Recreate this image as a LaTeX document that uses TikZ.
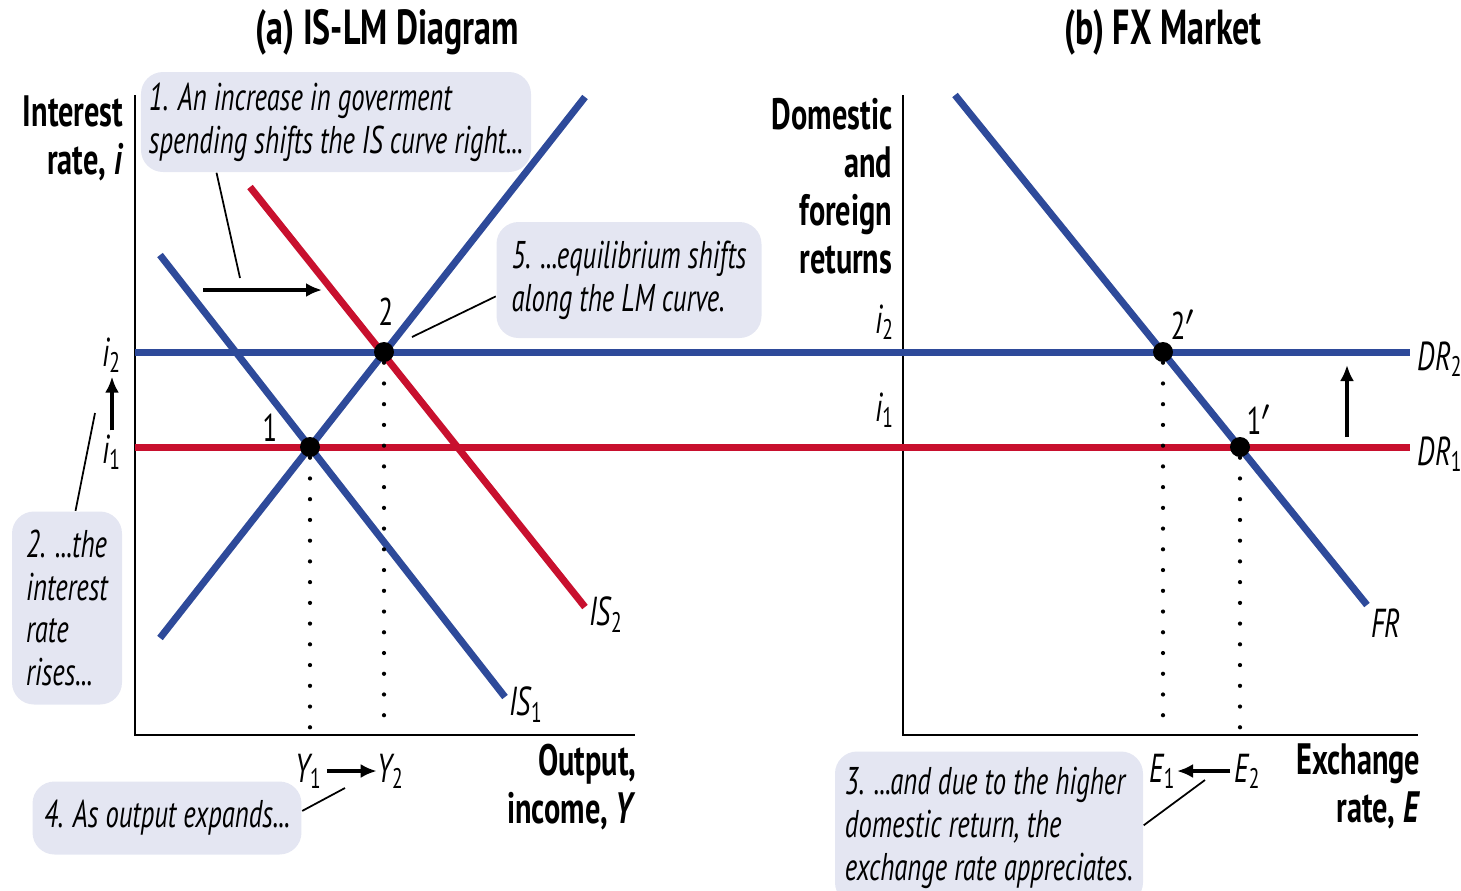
\documentclass[tikz,border=0pt]{standalone}
\usepackage{fontspec}
\setmainfont{PT Sans}[FakeStretch=0.69]
\usetikzlibrary{positioning, arrows.meta}
\definecolor{curveblue}{RGB}{46,74,154}
\definecolor{curvered}{RGB}{200,16,46}
\definecolor{notefill}{RGB}{228,230,242}
\newcommand{\sub}[1]{\textsubscript{\upshape #1}}

\begin{document}
\begin{tikzpicture}[
        x=0.1mm, y=-0.1mm,
        >={Latex[length=1.6mm, width=1.4mm]},
        axis/.style={line width=0.7pt},
        blueline/.style={line width=2pt, draw=curveblue},
        redline/.style={line width=2pt, draw=curvered},
        guide/.style={line width=1.2pt, line cap=round, dash pattern=on 0pt off 5.9pt},
        eqdot/.style={circle, fill=black, inner sep=0pt, minimum size=2mm},
        note/.style={fill=notefill, rounded corners=2.2mm, align=left, inner sep=0.8mm, font=\fontsize{11}{12.2}\selectfont\itshape},
        axlabel/.style={align=right, inner sep=0pt, font=\fontsize{12.5}{13.6}\selectfont\bfseries},
        title/.style={inner sep=0pt, font=\fontsize{14}{16}\selectfont\bfseries},
        tag/.style={inner sep=1pt, font=\fontsize{11}{12}\selectfont},
        ctag/.style={inner sep=1pt, font=\fontsize{11.5}{12}\selectfont\itshape},
        pointer/.style={line width=0.5pt},
        movearrow/.style={->, line width=1.4pt},
        thinmove/.style={->, line width=0.9pt},
        longer/.style={shorten <=0pt, shorten >=-1pt}
    ]
    \useasboundingbox (0,0) rectangle (1461,890);

    % Titles
    \node[title] (titlea) at (387,32) {(a) IS-LM Diagram};
    \node[title] (titleb) at (1163,32) {(b) FX Market};

    % Axes
    \coordinate (oa) at (135,735);
    \coordinate (ob) at (903,735);
    \draw[axis] (135,95) -- (oa) -- (635,735);
    \draw[axis] (903,95) -- (ob) -- (1418,735);
    \node[axlabel, anchor=east] (ylaba) at (124,138) {Interest\\rate, \textit{i}};
    \node[axlabel, anchor=east] (xlaba) at (637,787) {Output,\\income, \textit{Y}};
    \node[axlabel, anchor=east] (ylabb) at (893,186) {Domestic\\and\\foreign\\returns};
    \node[axlabel, anchor=east] (xlabb) at (1421,786) {Exchange\\rate, \textit{E}};

    % Return lines
    \coordinate (dr2-l) at (135,352);
    \coordinate (dr2-r) at (1410,352);
    \coordinate (dr1-l) at (135,447);
    \coordinate (dr1-r) at (1410,447);
    \draw[redline] (dr1-l) -- (dr1-r);
    \draw[blueline] (dr2-l) -- (dr2-r);
    \node[ctag, right=1pt of dr2-r, yshift=-2pt] (dr2lab) {DR\sub{2}};
    \node[ctag, right=1pt of dr1-r, yshift=-2pt] (dr1lab) {DR\sub{1}};

    % IS-LM curves
    \coordinate (lm-lo) at (160,638);
    \coordinate (lm-hi) at (585,97);
    \coordinate (is1-hi) at (160,255);
    \coordinate (is1-lo) at (505,697);
    \coordinate (is2-hi) at (250,187);
    \coordinate (is2-lo) at (585,607);
    \draw[blueline] (is1-hi) -- (is1-lo);
    \draw[redline] (is2-hi) -- (is2-lo);
    \draw[blueline] (lm-lo) -- (lm-hi);
    \node[ctag, below right=-4pt and 0pt of is1-lo] (is1lab) {IS\sub{1}};
    \node[ctag, below right=-4pt and 0pt of is2-lo] (is2lab) {IS\sub{2}};

    % FR curve
    \coordinate (fr-hi) at (955,95);
    \coordinate (fr-lo) at (1367,605);
    \draw[blueline] (fr-hi) -- (fr-lo);
    \node[ctag, below right=0pt and 0pt of fr-lo] (frlab) {FR};

    % Equilibria
    \node[eqdot] (eq1) at (310,447) {};
    \node[eqdot] (eq2) at (384,352) {};
    \node[eqdot] (eq2b) at (1163,352) {};
    \node[eqdot] (eq1b) at (1240,447) {};
    \draw[guide] (eq1) -- (eq1 |- oa);
    \draw[guide] (eq2) -- (eq2 |- oa);
    \draw[guide] (eq2b) -- (eq2b |- ob);
    \draw[guide] (eq1b) -- (eq1b |- ob);
    \node[tag] (lab1) at (270,428) {1};
    \node[tag] (lab2) at (386,312) {2};
    \node[tag] (lab2b) at (1183,325) {2$'$};
    \node[tag] (lab1b) at (1259,420) {1$'$};

    % Axis values
    \node[ctag] (i2a) at (112,355) {i\sub{2}};
    \node[ctag] (i1a) at (112,452) {i\sub{1}};
    \node[ctag] (i2b) at (885,322) {i\sub{2}};
    \node[ctag] (i1b) at (885,410) {i\sub{1}};
    \node[ctag] (y1) at (309,771) {Y\sub{1}};
    \node[ctag] (y2) at (391,771) {Y\sub{2}};
    \node[ctag] (e1) at (1163,771) {E\sub{1}};
    \node[ctag] (e2) at (1248,771) {E\sub{2}};

    % Shift arrows
    \coordinate (is-from) at (203,290);
    \coordinate (is-to) at (322,290);
    \coordinate (dr-from) at (1347,437);
    \coordinate (dr-to) at (1347,365);
    \draw[movearrow] (is-from) -- (is-to);
    \draw[thinmove] (dr-from) -- (dr-to);
    \draw[thinmove] (i1a) -- (i2a);
    \draw[movearrow, longer] (y1) -- (y2);
    \draw[movearrow, longer] (e2) -- (e1);

    % Notes
    \node[note, minimum width=3.82cm, minimum height=1.0cm] (note1) at (336,122)
        {1. An increase in goverment\\spending shifts the IS curve right...};
    \node[note, minimum width=1.10cm, minimum height=1.93cm] (note2) at (67,608)
        {2. ...the\\interest\\rate\\rises...};
    \node[note, minimum width=3.08cm, minimum height=1.53cm] (note3) at (989,828)
        {3. ...and due to the higher\\domestic return, the\\exchange rate appreciates.};
    \node[note, minimum width=2.69cm, minimum height=0.73cm] (note4) at (167,818)
        {4. As output expands...};
    \node[note, minimum width=2.65cm, minimum height=1.16cm] (note5) at (629,280)
        {5. ...equilibrium shifts\\along the LM curve.};

    % Pointers
    \coordinate (tip1) at (240,278);
    \coordinate (tip2) at (95,413);
    \coordinate (tip3) at (1205,780);
    \coordinate (tip4) at (345,788);
    \coordinate (tip5) at (412,337);
    \draw[pointer] (note1.203) -- (tip1);
    \draw[pointer] (note2.85) -- (tip2);
    \draw[pointer] (note3.1) -- (tip3);
    \draw[pointer] (note4.3) -- (tip4);
    \draw[pointer] (note5.187) -- (tip5);
\end{tikzpicture}
\end{document}
